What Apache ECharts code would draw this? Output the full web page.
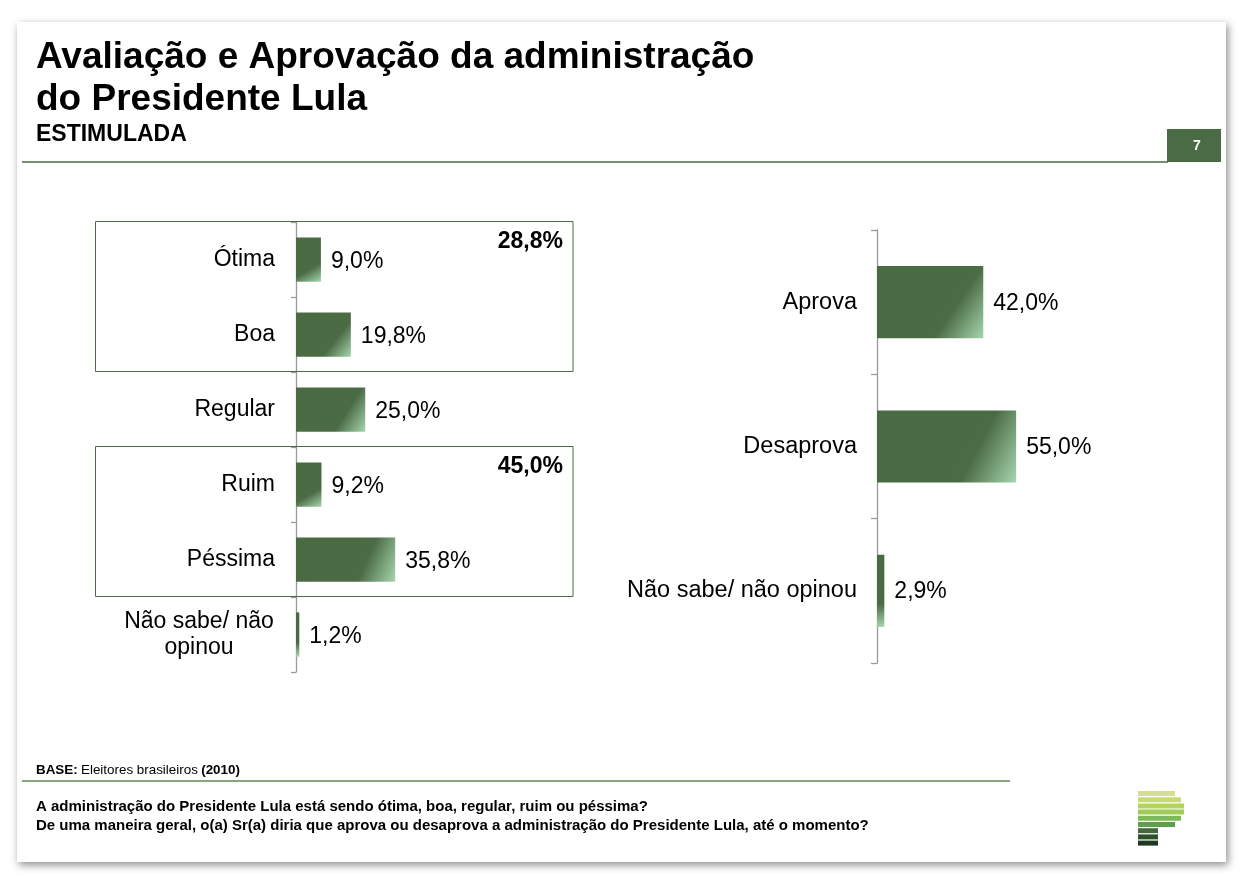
<!DOCTYPE html>
<html><head><meta charset="utf-8">
<script src="https://cdn.jsdelivr.net/npm/echarts@6/dist/echarts.min.js"></script>
<style>html,body{margin:0;padding:0;background:#fff}#c{width:1242px;height:878px}</style>
</head><body><div id="c"></div>
<script>
// ---- data ----
const evalCategories = ['Ótima', 'Boa', 'Regular', 'Ruim', 'Péssima', 'Não sabe/ não\nopinou'];
const evalValues = [9.0, 19.8, 25.0, 9.2, 35.8, 1.2];
const groupTotals = [28.8, 45.0];          // Ótima+Boa, Ruim+Péssima
const groupRanges = [[0, 1], [3, 4]];      // category index ranges of the boxes
const aprovCategories = ['Aprova', 'Desaprova', 'Não sabe/ não opinou'];
const aprovValues = [42.0, 55.0, 2.9];

const titleLines = ['Avaliação e Aprovação da administração', 'do Presidente Lula'];
const subtitle = 'ESTIMULADA';
const pageNum = '7';
const question1 = 'A administração do Presidente Lula está sendo ótima, boa, regular, ruim ou péssima?';
const question2 = 'De uma maneira geral, o(a) Sr(a) diria que aprova ou desaprova a administração do Presidente Lula, até o momento?';

const FONT = '"Liberation Sans", Arial, Helvetica, sans-serif';
const GREEN = '#4a6b45';
const fmt = v => v.toFixed(1).replace('.', ',') + '%';
const barColor = new echarts.graphic.LinearGradient(0, 0, 1, 1, [
  {offset: 0, color: '#4a6a44'}, {offset: 0.68, color: '#4b6b45'}, {offset: 1, color: '#a6d6ae'}
]);

const chart = echarts.init(document.getElementById('c'), null, {renderer: 'canvas'});

const catLabel = {
  fontFamily: FONT, fontSize: 23, color: '#000', margin: 21,
  formatter: v => v.indexOf('\n') >= 0 ? v.split('\n').map(l => '{c|' + l + '}').join('\n') : v,
  rich: {c: {fontFamily: FONT, fontSize: 23, color: '#000', width: 152, align: 'center', lineHeight: 26}}
};
const axisLineStyle = {show: true, lineStyle: {color: '#9a9a9a', width: 1.3}};

const option = {
  animation: false,
  backgroundColor: '#fff',
  grid: [
    {left: 296, top: 222, width: 277, height: 450, containLabel: false},
    {left: 877, top: 230, width: 253, height: 433, containLabel: false}
  ],
  xAxis: [
    {gridIndex: 0, type: 'value', min: 0, max: 100, show: false},
    {gridIndex: 1, type: 'value', min: 0, max: 100, show: false}
  ],
  yAxis: [
    {gridIndex: 0, type: 'category', inverse: true, data: evalCategories,
     axisLine: axisLineStyle,
     axisTick: {show: true, inside: false, alignWithLabel: false, length: 5, lineStyle: {color: '#9a9a9a', width: 1.3}},
     axisLabel: catLabel, splitLine: {show: false}},
    {gridIndex: 1, type: 'category', inverse: true, data: aprovCategories,
     axisLine: axisLineStyle,
     axisTick: {show: true, inside: false, alignWithLabel: false, length: 6, lineStyle: {color: '#9a9a9a', width: 1.3}},
     axisLabel: Object.assign({}, catLabel, {margin: 20, fontSize: 23.5}), splitLine: {show: false}}
  ],
  series: [
    {type: 'bar', xAxisIndex: 0, yAxisIndex: 0, data: evalValues, barWidth: '59%',
     itemStyle: {color: barColor},
     label: {show: true, position: 'right', distance: 10, offset: [0, 2], formatter: p => fmt(p.value),
             fontFamily: FONT, fontSize: 23, color: '#000'}},
    {type: 'bar', xAxisIndex: 1, yAxisIndex: 1, data: aprovValues, barWidth: '50%',
     itemStyle: {color: barColor},
     label: {show: true, position: 'right', distance: 10, offset: [0, 1], formatter: p => fmt(p.value),
             fontFamily: FONT, fontSize: 23, color: '#000'}}
  ]
};
chart.setOption(option);

// ---- decorations computed from the axes ----
const c0 = chart.convertToPixel({yAxisIndex: 0}, 0);
const c1 = chart.convertToPixel({yAxisIndex: 0}, 1);
const band = c1 - c0;
const boxRight = chart.convertToPixel({xAxisIndex: 0}, 100);
const boxes = [];
groupRanges.forEach((r, i) => {
  const top = chart.convertToPixel({yAxisIndex: 0}, r[0]) - band / 2;
  const bot = chart.convertToPixel({yAxisIndex: 0}, r[1]) + band / 2;
  boxes.push({type: 'rect', z: 5, silent: true,
    shape: {x: 95.5, y: Math.round(top) - 0.5, width: boxRight - 95.5, height: bot - top},
    style: {fill: 'none', stroke: GREEN, lineWidth: 1}});
  boxes.push({type: 'text', z: 6, x: boxRight - 10, y: Math.round(top) + 8,
    style: {text: fmt(groupTotals[i]), fontFamily: FONT, fontSize: 23, fontWeight: 'bold',
            fill: '#000', align: 'right', verticalAlign: 'top'}});
});

const logoColors = ['#d4e08f', '#c6dc6f', '#b4d55c', '#9fcb59', '#7fbb55', '#5f9e4d', '#44683b', '#2f4f2c', '#1f3a1f'];
const logoWidths = [37, 43, 46, 46, 43, 37, 20, 20, 20];
const logo = logoColors.map((col, i) => ({type: 'rect', silent: true,
  shape: {x: 1138, y: 791 + i * 6.2, width: logoWidths[i], height: 5},
  style: {fill: col}}));

// text placed by baseline: top ≈ baseline - 0.72 * fontSize
const txt = (s, x, base, fs, bold, extra) => Object.assign({type: 'text', x: x, y: base - 0.72 * fs,
  style: Object.assign({text: s, fontFamily: FONT, fontSize: fs, fontWeight: bold ? 'bold' : 'normal', fill: '#000', verticalAlign: 'top'}, extra || {})});

chart.setOption({
  graphic: [
    {type: 'rect', z: -10, silent: true, shape: {x: 17, y: 22, width: 1209, height: 840},
     style: {fill: '#fff', shadowBlur: 8, shadowOffsetX: 2, shadowOffsetY: 3, shadowColor: 'rgba(0,0,0,0.45)'}},
    txt(titleLines[0], 36, 66, 37, true),
    txt(titleLines[1], 36, 108, 37, true),
    txt(subtitle, 36, 140, 23, true),
    {type: 'line', shape: {x1: 22, y1: 162, x2: 1168, y2: 162}, style: {stroke: GREEN, lineWidth: 1.5}},
    {type: 'rect', shape: {x: 1167, y: 129, width: 54, height: 33}, style: {fill: GREEN}},
    {type: 'text', x: 1197, y: 146, style: {text: pageNum, fontFamily: FONT, fontSize: 14, fontWeight: 'bold', fill: '#fff', align: 'center', verticalAlign: 'middle'}},
    {type: 'text', x: 36, y: 773 - 0.72 * 13.4, style: {text: '{b|BASE:} {n|Eleitores brasileiros} {b|(2010)}', verticalAlign: 'top',
      rich: {b: {fontFamily: FONT, fontSize: 13.4, fontWeight: 'bold', fill: '#000'}, n: {fontFamily: FONT, fontSize: 13.4, fill: '#000'}}}},
    {type: 'line', shape: {x1: 22, y1: 781, x2: 1010, y2: 781}, style: {stroke: '#5e8a4a', lineWidth: 1.5}},
    txt(question1, 36, 810, 15, true),
    txt(question2, 36, 829, 15, true)
  ].concat(boxes, logo)
});
</script></body></html>
